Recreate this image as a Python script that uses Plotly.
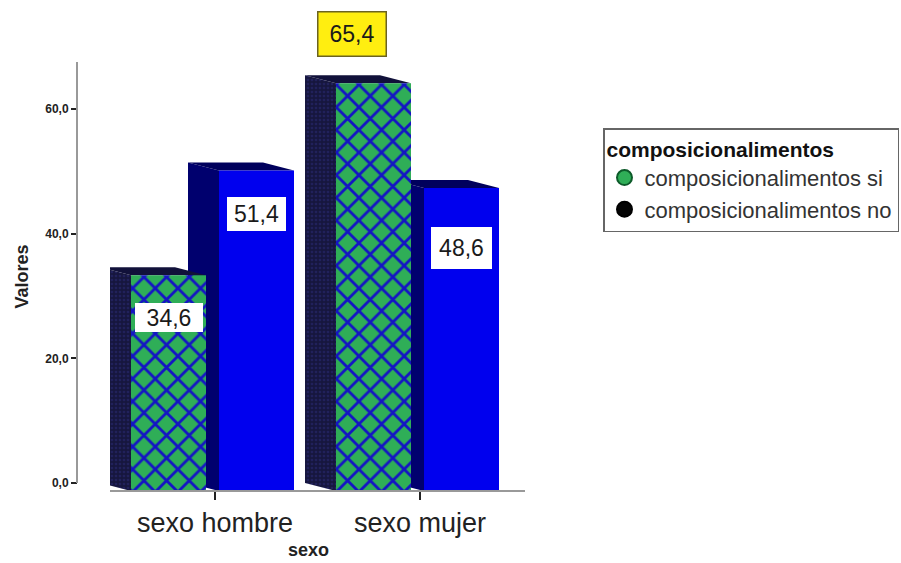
import plotly.graph_objects as go

# Data
categories = ["sexo hombre", "sexo mujer"]
series_names = ["composicionalimentos si", "composicionalimentos no"]
values_si = [34.6, 65.4]
values_no = [51.4, 48.6]
y_ticks = [0, 20, 40, 60]

W, H = 901, 563
FONT = "Liberation Sans, Arial, sans-serif"

# axis pixel frame
X0_PX, X1_PX = 110, 525
Y0_PX, Y1_PX = 483, 62
XAXIS_PX = 491
CAT_PX = 205.0
CAT0_PX = 215.0
Y_SCALE = 6.235  # px per unit

# 3-D look: the front faces sit lower/right of the back plane
DEPTH_X = 31 / CAT_PX
DEPTH_Y = (XAXIS_PX - Y0_PX) / Y_SCALE
BAR_W = 75 / CAT_PX
OFFSET_SI = -84 / CAT_PX
OFFSET_NO = 4 / CAT_PX

y_top = (Y0_PX - Y1_PX) / Y_SCALE
x_range = [(X0_PX - CAT0_PX) / CAT_PX, (X1_PX - CAT0_PX) / CAT_PX]
y_range = [-DEPTH_Y, y_top]
x_domain = [X0_PX / W, X1_PX / W]
y_domain = [1 - XAXIS_PX / H, 1 - Y1_PX / H]

GREEN = "#2fae57"
PBLUE = "#1414c4"
BLUE = "#0000ee"
DARK_BLUE = "#00006e"
TOP_BLUE = "#00005c"
NAVY = "#16163e"
NAVY_DOT = "#2c2c78"


def px(x, y):
    return x / W, 1 - y / H


fig = go.Figure()


def solid_faces(values, offset, side_col, top_col, textured):
    for i, v in enumerate(values):
        xl = i + offset
        xr = xl + BAR_W
        top = v - DEPTH_Y
        side_x = [xl, xl, xl - DEPTH_X, xl - DEPTH_X, xl]
        side_y = [-DEPTH_Y, top, v, 0, -DEPTH_Y]
        top_x = [xl, xr, xr - DEPTH_X, xl - DEPTH_X, xl]
        top_y = [top, top, v, v, top]
        for fx, fy, col in ((side_x, side_y, side_col), (top_x, top_y, top_col)):
            extra = {}
            if textured and col == side_col:
                extra["fillpattern"] = dict(shape=".", bgcolor=NAVY, fgcolor=NAVY_DOT,
                                            size=4, solidity=0.35)
            fig.add_trace(go.Scatter(x=fx, y=fy, mode="lines", fill="toself",
                                     fillcolor=col, line=dict(width=0, color=col),
                                     cliponaxis=False, showlegend=False,
                                     hoverinfo="skip", **extra))


solid_faces(values_no, OFFSET_NO, DARK_BLUE, TOP_BLUE, False)
solid_faces(values_si, OFFSET_SI, NAVY, "#11113a", True)

# front faces live on an overlaying pair of axes so they cover the side faces
xs = list(range(len(categories)))
fig.add_trace(go.Bar(x=xs, y=values_si, base=-DEPTH_Y, width=BAR_W, offset=OFFSET_SI,
                     xaxis="x2", yaxis="y2", cliponaxis=False, showlegend=False,
                     marker=dict(color=GREEN, line=dict(width=0),
                                 pattern=dict(shape="x", fgcolor=PBLUE, bgcolor=GREEN,
                                              size=16, solidity=0.32, fillmode="replace"))))
fig.add_trace(go.Bar(x=xs, y=values_no, base=-DEPTH_Y, width=BAR_W, offset=OFFSET_NO,
                     xaxis="x2", yaxis="y2", cliponaxis=False, showlegend=False,
                     marker=dict(color=BLUE, line=dict(width=0))))

# legend entries
fig.add_trace(go.Scatter(x=[None], y=[None], mode="markers", name=series_names[0],
                         marker=dict(symbol="circle", size=15, color=GREEN,
                                     line=dict(color="#0d5a2a", width=2))))
fig.add_trace(go.Scatter(x=[None], y=[None], mode="markers", name=series_names[1],
                         marker=dict(symbol="circle", size=15, color="#050505",
                                     line=dict(color="#000000", width=2))))

# value labels
label_boxes = [
    (values_si[0], 135, 203, 303, 332, "white", None),
    (values_no[0], 227, 286, 197, 231, "white", None),
    (values_si[1], 318, 385, 12, 55, "#ffee10", "#6b6320"),
    (values_no[1], 431, 492, 227, 269, "white", None),
]
for v, l, r, t, b, bg, border in label_boxes:
    cx, cy = px((l + r) / 2, (t + b) / 2)
    fig.add_annotation(xref="paper", yref="paper", x=cx, y=cy, xanchor="center", yanchor="middle",
                       text=f"{v:.1f}".replace(".", ","), showarrow=False,
                       width=r - l, height=b - t, align="center", valign="middle", borderpad=0,
                       bgcolor=bg, bordercolor=border or bg, borderwidth=1.5 if border else 0,
                       font=dict(family=FONT, size=23, color="#1a1a1a"))

tx, ty = px(308, 550)
fig.add_annotation(xref="paper", yref="paper", x=tx, y=ty, xanchor="center", yanchor="middle",
                   text="<b>sexo</b>", showarrow=False, font=dict(family=FONT, size=18, color="#222"))

# the value axis line stops at 0, above the floor of the front faces
fig.add_shape(type="line", xref="paper", yref="y", x0=77 / W, x1=77 / W, y0=0, y1=y_top,
              line=dict(color="#999", width=2))

fig.update_layout(
    width=W, height=H, autosize=False,
    margin=dict(l=0, r=0, t=0, b=0),
    paper_bgcolor="white", plot_bgcolor="white",
    separators=",.",
    barmode="overlay",
    font=dict(family=FONT, color="#222"),
    xaxis=dict(domain=x_domain, range=x_range, anchor="free", position=y_domain[0],
               tickmode="array", tickvals=xs, ticktext=categories,
               tickfont=dict(size=27, color="#222"),
               ticks="outside", ticklen=8, tickwidth=2, tickcolor="#222",
               showline=True, linecolor="#999", linewidth=2, showgrid=False, zeroline=False),
    yaxis=dict(domain=y_domain, range=y_range, anchor="free", position=77 / W,
               tickmode="array", tickvals=y_ticks, tickformat=".1f",
               tickfont=dict(size=12, color="#222", weight=600),
               ticks="outside", ticklen=6, tickwidth=2, tickcolor="#222",
               showline=False, showgrid=False, zeroline=False,
               title=dict(text="<b>Valores</b>", font=dict(size=18, color="#222"), standoff=10)),
    xaxis2=dict(domain=x_domain, range=x_range, overlaying="x", visible=False),
    yaxis2=dict(domain=y_domain, range=y_range, overlaying="y", visible=False),
    legend=dict(x=603 / W, y=1 - 128 / H, xanchor="left", yanchor="top",
                bgcolor="white", bordercolor="#666", borderwidth=1.5,
                font=dict(size=22, color="#333"),
                title=dict(text="<b>composicionalimentos</b>", font=dict(size=21, color="#111")),
                itemwidth=30, tracegroupgap=0),
)

fig.write_html("out.html", config={"displayModeBar": False},
               post_script="document.body.style.margin='0';")
